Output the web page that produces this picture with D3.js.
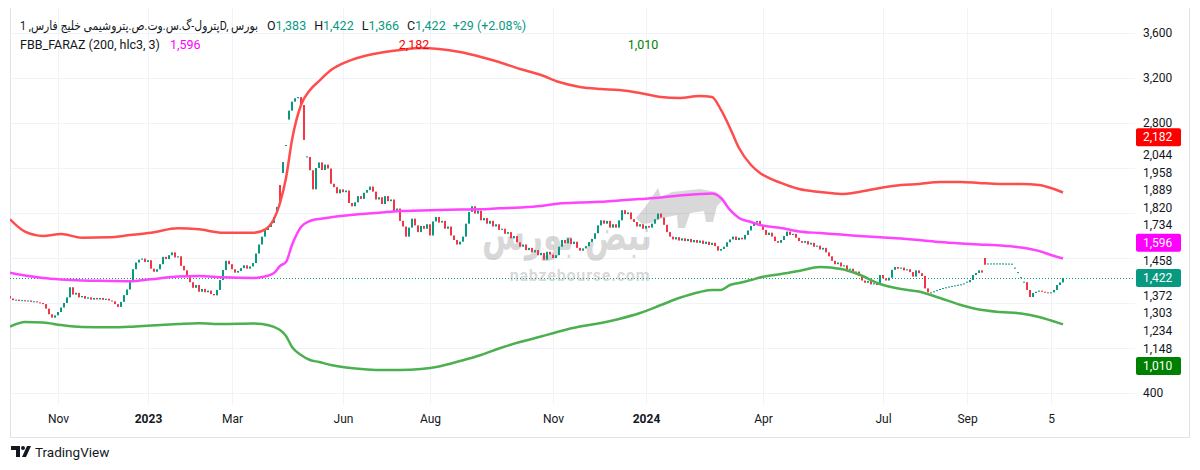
<!DOCTYPE html>
<html><head><meta charset="utf-8">
<script src="https://cdn.jsdelivr.net/npm/d3@7"></script>
<style>
html,body{margin:0;padding:0;background:#fff;}
svg{display:block;font-family:Roboto,"DejaVu Sans","Noto Sans",sans-serif;}
</style></head><body>
<svg id="chart" width="1200" height="470"></svg>
<script>
// ---------- DATA ----------
const closes = [
1240,1225,1230,1218,1225,1215,1222,1210,1215,1205,
1200,1190,1150,1100,1070,1090,1120,1160,1200,1250,
1340,1275,1290,1250,1262,1238,1250,1230,1245,1232,
1245,1228,1238,1222,1215,1190,1165,1210,1270,1320,
1400,1500,1560,1585,
1595,1565,1580,1505,1478,1500,1545,1610,1590,1625,
1650,1605,1615,1530,1490,1430,1385,1335,1360,1300,
1325,1295,1310,1280,1268,1316,1404,1493,1575,1545,
1500,1470,1485,1510,1535,1505,1525,1555,1640,1720,
1790,1849,1876,1911,1964,2053,2089,2453,2600,2910,
2990,3020,3030,2960,2650,2498,2380,2210,2400,2450,
2382,2430,2395,2260,2230,2175,2210,2185,2200,2089,
2060,2095,2150,2125,2180,2204,2235,2190,2120,2140,
2080,2150,2105,2120,2010,2040,1930,1880,1790,1870,
1950,1890,1830,1885,1860,1900,1800,1925,1965,1915,
1930,1860,1880,1800,1760,1720,1745,1790,1905,2010,
2060,1995,2020,1935,1955,1905,1930,1880,1900,1850,
1860,1815,1830,1775,1795,1740,1700,1720,1670,1690,
1650,1670,1625,1645,1585,1655,1630,1600,1625,1700,
1760,1730,1775,1725,1745,1690,1665,1685,1705,1742,
1770,1820,1890,1935,1905,1930,1870,1900,1870,1935,
2025,1990,2005,1945,1920,1880,1900,1860,1885,1870,
1905,1945,1995,1960,1895,1830,1790,1765,1785,1755,
1775,1750,1770,1740,1760,1735,1755,1725,1745,1716,
1735,1705,1665,1680,1700,1740,1765,1790,1760,1780,
1765,1805,1845,1885,1915,1930,1895,1850,1805,1825,
1790,1750,1735,1760,1795,1835,1805,1815,1780,1750,
1735,1750,1720,1735,1700,1710,1675,1690,1650,1615,
1575,1545,1560,1525,1535,1495,1505,1470,1480,1440,
1400,1380,1395,1365,1375,1360,1449,1420,1400,1425,
1495,1520,1505,1515,1490,1500,1475,1435,1490,1465,
1440,1330,1295,1290,1300,1310,1320,1328,1335,1342,
1348,1352,1358,1362,1370,1385,1404,1449,1467,1490,
1470,1540,1547,1547,1547,1547,1547,1547,1546,1546,
1545,1510,1470,1425,1385,1316,1253,1289,1300,1310,
1300,1295,1290,1295,1316,1360,1383,1422
];
// days with no trading range (open = close), drawn as dashes
const flatDays = [92,99,308,309,310,311,312,313,314,315,316,317,318,319,326,327,328,329,330,331,332,333,334,335,336,337,338];
// opens that differ from previous close: [day index, open]
const gapOpens = [[0,1262],[89,2000],[90,2249],[91,2355],[93,2830],[325,1600]];

// indicator bands (FBB_FARAZ 200, hlc3, 3), sampled by day index
const bandIdx = [0,5,11,17,24,33,40,47,56,63,71,81,84,88,90,92,94,97,100,103,107,112,117,123,130,137,143,150,157,163,170,177,183,190,197,203,210,217,223,230,234,237,240,243,247,250,257,263,270,277,283,290,297,303,310,317,323,330,337,343,347,351];
const upperBand = [1944,1834,1796,1813,1780,1784,1804,1825,1864,1855,1825,1825,1840,1947,2089,2311,2649,2960,3093,3173,3271,3342,3387,3422,3449,3467,3458,3431,3387,3342,3280,3227,3164,3120,3102,3093,3067,3031,3022,3040,3031,2916,2756,2578,2427,2356,2267,2213,2187,2169,2187,2222,2249,2258,2276,2276,2267,2258,2258,2249,2222,2182];
const midBand = [1469,1444,1422,1409,1400,1396,1393,1411,1436,1440,1428,1422,1431,1467,1529,1564,1716,1876,1929,1947,1962,1978,1991,2003,2018,2022,2027,2031,2033,2042,2049,2062,2084,2093,2100,2111,2124,2138,2156,2169,2173,2133,2027,1956,1920,1893,1867,1836,1822,1809,1796,1784,1773,1760,1742,1729,1720,1711,1693,1662,1627,1596];
const lowerBand = [989,1031,1027,1004,987,984,989,1000,1013,1020,1013,1018,1013,987,960,907,809,738,693,676,649,627,613,604,604,613,636,684,738,796,853,902,947,991,1022,1058,1111,1182,1244,1298,1316,1316,1360,1378,1404,1427,1458,1484,1520,1502,1453,1369,1324,1302,1244,1182,1142,1120,1107,1076,1044,1010];

// fib band levels shown on the price scale
const fibLevels = [2044,1958,1889,1820,1734,1458,1372,1303,1234,1148];
const priceTicks = [400,800,1200,1600,2000,2400,2800,3200,3600];
const timeTickIdx = [16,46,74,111,140,181,212,251,291,319,347];
const timeTickLabels = ["Nov","2023","Mar","Jun","Aug","Nov","2024","Apr","Jul","Sep","5"];

const title = "پترول-گ.س.وت.ص.پتروشیمی خلیج فارس, 1D, بورس";
const ohlc = [["O","1,383"],["H","1,422"],["L","1,366"],["C","1,422"]];
const change = "+29 (+2.08%)";
const indName = "FBB_FARAZ (200, hlc3, 3)";

// ---------- LAYOUT ----------
const UP="#089981", DOWN="#f23645", TXT="#131722", GRID="#f0f3fa";
const L=10, R=1135, T=8, B=404;
const svg=d3.select('#chart');
const x=d3.scaleLinear().domain([0,closes.length-1]).range([10,1063]);
const y=d3.scaleLinear().domain([400,3600]).range([393,33]);

svg.append('defs').append('clipPath').attr('id','plotclip')
  .append('rect').attr('x',L).attr('y',T).attr('width',R-L).attr('height',B-T);

// grid
const gy=svg.append('g').attr('transform',`translate(${L},0)`)
  .call(d3.axisRight(y).tickValues(priceTicks).tickSize(R-L).tickFormat(''));
gy.select('.domain').remove();
gy.selectAll('line').attr('stroke',GRID);
const gx=svg.append('g').attr('transform',`translate(0,${B})`)
  .call(d3.axisTop(x).tickValues(timeTickIdx).tickSize(B-T).tickFormat(''));
gx.select('.domain').remove();
gx.selectAll('line').attr('stroke',GRID);

// frame
svg.append('path').attr('d',`M${L+0.5},${T}V437.5H1189.5V${T}`).attr('fill','none').attr('stroke','#e0e3eb');

// watermark
const wm=svg.append('g').attr('opacity',0.15).attr('fill','#000');
wm.append('text').attr('x',567).attr('y',250).attr('text-anchor','middle')
  .attr('font-size',44).attr('font-weight','bold').attr('textLength',170).attr('lengthAdjust','spacingAndGlyphs')
  .attr('font-family','"DejaVu Sans",sans-serif').text('نبض بورس');
wm.append('path').attr('d','M636,218 L646,206 L652,197 L658,188 L661,197 L672,192 L700,189 L716,192 L724,199 L717,206 L713,222 L706,222 L704,211 L690,213 L685,228 L678,228 L677,215 L663,218 L651,223 L642,224 Z');
svg.append('text').attr('x',580).attr('y',281).attr('text-anchor','middle')
  .attr('font-size',16).attr('font-weight','bold').attr('letter-spacing',0.8)
  .attr('fill','#000').attr('opacity',0.15).text('nabzebourse.com');

const plot=svg.append('g').attr('clip-path','url(#plotclip)');

// last price dotted line
const lastClose=closes[closes.length-1];
plot.append('line').attr('x1',L).attr('x2',R).attr('y1',Math.round(y(lastClose))+0.5).attr('y2',Math.round(y(lastClose))+0.5)
  .attr('stroke',UP).attr('stroke-width',1).attr('stroke-dasharray','1,2');

// candles
const flatSet=new Set(flatDays);
const gapMap=new Map(gapOpens);
const candles=closes.map((c,i)=>{
  let o = flatSet.has(i)? c : (gapMap.has(i)? gapMap.get(i) : (i? closes[i-1]: c));
  return {i,o,c,flat:flatSet.has(i)};
});
plot.append('g').selectAll('rect').data(candles).join('rect')
  .attr('x',d=>x(d.i)-1).attr('width',2)
  .attr('y',d=>d.flat? y(d.c)-0.5 : y(Math.max(d.o,d.c)))
  .attr('height',d=>d.flat?1:Math.max(1,Math.abs(y(d.o)-y(d.c))))
  .attr('fill',d=>d.c>=d.o?UP:DOWN);

// bands
function band(vals,color){
  const ln=d3.line().x((d,k)=>x(bandIdx[k])).y(d=>y(d)).curve(d3.curveMonotoneX);
  plot.append('path').datum(vals).attr('d',ln).attr('fill','none')
    .attr('stroke',color).attr('stroke-width',2.5).attr('stroke-linejoin','round');
}
band(lowerBand,'#4caf50');
band(midBand,'#ff44ff');
band(upperBand,'#ff4d4d');

// time axis
const ax=svg.append('g').attr('transform',`translate(0,${B})`)
  .call(d3.axisBottom(x).tickValues(timeTickIdx).tickSize(0).tickPadding(10)
    .tickFormat((d,k)=>timeTickLabels[k]));
ax.select('.domain').remove();
ax.selectAll('text').attr('font-size',12).attr('fill',TXT)
  .attr('font-weight',(d,k)=>/^\d{4}$/.test(timeTickLabels[k])?'bold':'normal')
  .attr('font-family','Roboto,sans-serif');

// price labels (stacked to avoid overlap, anchored at last price)
const upperLast=upperBand[upperBand.length-1], midLast=midBand[midBand.length-1], lowerLast=lowerBand[lowerBand.length-1];
let labels=[{v:upperLast,bg:'#ff0000'},{v:midLast,bg:'#ff00ff'},{v:lastClose,bg:UP,anchor:true},{v:lowerLast,bg:'#008000'}]
  .concat(fibLevels.map(v=>({v})));
labels.sort((a,b)=>b.v-a.v);
const h=17.6;
const ai=labels.findIndex(d=>d.anchor);
labels.forEach(d=>d.py=y(d.v));
for(let i=ai-1;i>=0;i--) labels[i].py=Math.min(labels[i].py,labels[i+1].py-h);
for(let i=ai+1;i<labels.length;i++) labels[i].py=Math.max(labels[i].py,labels[i-1].py+h);

const visTicks=priceTicks.filter(t=>labels.every(l=>Math.abs(l.py-y(t))>12));
const ay=svg.append('g').attr('transform',`translate(1143,0)`)
  .call(d3.axisRight(y).tickValues(visTicks).tickSize(0).tickPadding(0).tickFormat(d3.format(',')));
ay.select('.domain').remove();
ay.selectAll('text').attr('font-size',12).attr('fill',TXT).attr('font-family','Roboto,sans-serif');

const lg=svg.append('g').selectAll('g').data(labels).join('g')
  .attr('transform',d=>`translate(0,${d.py})`);
lg.filter(d=>d.bg).append('rect').attr('x',1136).attr('y',-9).attr('width',45).attr('height',18)
  .attr('rx',2).attr('fill',d=>d.bg);
lg.append('text').attr('x',1143).attr('dy','0.35em').attr('font-size',12)
  .attr('font-family','Roboto,sans-serif')
  .attr('fill',d=>d.bg?'#fff':TXT).text(d=>d3.format(',')(d.v));

// header
const hdr=svg.append('g').attr('font-size',12.5).attr('fill',TXT);
const tt=hdr.append('text').attr('x',20).attr('y',30).attr('direction','ltr')
  .attr('textLength',238).attr('lengthAdjust','spacingAndGlyphs').text(title);
let cx=20+238+9;
const t2=hdr.append('text').attr('x',cx).attr('y',30);
ohlc.forEach(([k,v],j)=>{
  t2.append('tspan').attr('dx',j?8:0).attr('fill',TXT).text(k);
  t2.append('tspan').attr('fill',UP).text(v);
});
t2.append('tspan').attr('dx',7).attr('fill',UP).text(change);

const l2=hdr.append('text').attr('x',20).attr('y',49);
l2.append('tspan').attr('fill',TXT).text(indName);
l2.append('tspan').attr('dx',10).attr('fill','#ff00ff').text(d3.format(',')(midLast));
hdr.append('text').attr('x',414).attr('y',49).attr('text-anchor','middle').attr('fill','#ff0000').text(d3.format(',')(upperLast));
hdr.append('text').attr('x',643).attr('y',49).attr('text-anchor','middle').attr('fill','#008000').text(d3.format(',')(lowerLast));

// TradingView logo
const lo=svg.append('g').attr('fill',TXT);
lo.append('path').attr('d','M11,446 H20 V457 H16 V450 H11 Z');
lo.append('circle').attr('cx',23).attr('cy',448).attr('r',2);
lo.append('path').attr('d','M27,446 H31 L26,457 H22 Z');
lo.append('text').attr('x',35).attr('y',457).attr('font-size',13.5).attr('font-family','Roboto,sans-serif').text('TradingView');
</script>
</body></html>
